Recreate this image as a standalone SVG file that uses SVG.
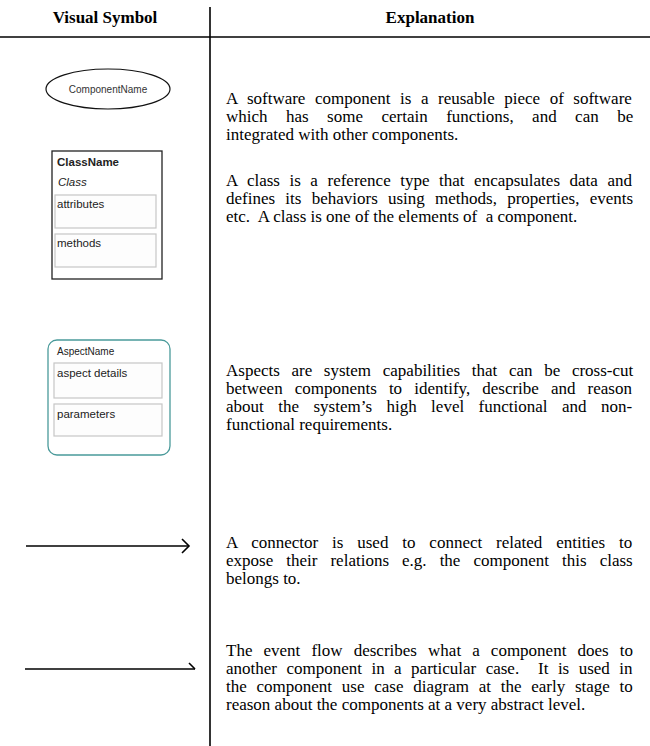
<svg xmlns="http://www.w3.org/2000/svg" width="650" height="746" viewBox="0 0 650 746">
<defs>
<style>
.hd{font-family:"Liberation Serif","Times New Roman",serif;font-weight:bold;font-size:17px;fill:#000;text-anchor:middle}
.tx{font-family:"Liberation Serif","Times New Roman",serif;font-size:17px;fill:#000}
.sm{font-family:"Liberation Sans",Arial,sans-serif;font-size:11.5px;fill:#222}
.rule{stroke:#000;stroke-width:1.6;fill:none}
.sub{fill:#fdfdfd;stroke:#c6c6c6;stroke-width:1.2}
.conn{stroke:#000;stroke-width:1.6;fill:none}
</style>
</defs>
<rect width="650" height="746" fill="#fff"/>
<g id="table">
<line class="rule" x1="210" y1="7" x2="210" y2="746"/>
<line class="rule" x1="0" y1="37" x2="650" y2="37"/>
<text class="hd" x="105" y="23">Visual Symbol</text>
<text class="hd" x="430" y="23">Explanation</text>
</g>
<g id="component">
<ellipse cx="108" cy="89" rx="62" ry="20" fill="#fff" stroke="#111" stroke-width="1.2"/>
<text x="108" y="92.5" text-anchor="middle" style="font-family:'Liberation Sans',Arial,sans-serif;font-size:10px;fill:#333">ComponentName</text>
</g>
<g id="class">
<rect x="52" y="151" width="110" height="128" fill="#fff" stroke="#222" stroke-width="1.3"/>
<text class="sm" x="57" y="166" font-weight="bold" fill="#000">ClassName</text>
<text class="sm" x="58" y="186" font-style="italic" fill="#444">Class</text>
<rect class="sub" x="55" y="195" width="101" height="33"/>
<text class="sm" x="57" y="208">attributes</text>
<rect class="sub" x="55" y="234" width="101" height="33"/>
<text class="sm" x="57" y="247">methods</text>
</g>
<g id="aspect">
<rect x="48" y="340" width="122" height="115" rx="9" fill="#fff" stroke="#4a9a9a" stroke-width="1.3"/>
<text class="sm" x="57" y="355" style="font-size:10px">AspectName</text>
<rect class="sub" x="54" y="363" width="108" height="35"/>
<text class="sm" x="57" y="377">aspect details</text>
<rect class="sub" x="54" y="404" width="108" height="32"/>
<text class="sm" x="57" y="418">parameters</text>
</g>
<g id="connectors">
<line class="conn" x1="26" y1="546" x2="188" y2="546"/>
<polyline class="conn" points="182,539 189,546 182,553"/>
<line class="conn" x1="25" y1="669" x2="195" y2="669"/>
<polyline class="conn" points="189,663 195,669"/>
</g>
<g id="text-component">
<text class="tx" x="226" y="104" word-spacing="5.3">A software component is a reusable piece of software</text>
<text class="tx" x="226" y="122" word-spacing="14.2">which has some certain functions, and can be</text>
<text class="tx" x="226" y="140">integrated with other components.</text>
</g>
<g id="text-class">
<text class="tx" x="226" y="186" word-spacing="5.3">A class is a reference type that encapsulates data and</text>
<text class="tx" x="226" y="204" word-spacing="6.0">defines its behaviors using methods, properties, events</text>
<text class="tx" x="226" y="222" xml:space="preserve">etc.  A class is one of the elements of  a component.</text>
</g>
<g id="text-aspect">
<text class="tx" x="226" y="376" word-spacing="7.4">Aspects are system capabilities that can be cross-cut</text>
<text class="tx" x="226" y="394" word-spacing="7.8">between components to identify, describe and reason</text>
<text class="tx" x="226" y="412" word-spacing="10.2">about the system’s high level functional and non-</text>
<text class="tx" x="226" y="430">functional requirements.</text>
</g>
<g id="text-connector">
<text class="tx" x="226" y="548" word-spacing="9.6">A connector is used to connect related entities to</text>
<text class="tx" x="226" y="566" word-spacing="8.8">expose their relations e.g. the component this class</text>
<text class="tx" x="226" y="584">belongs to.</text>
</g>
<g id="text-event">
<text class="tx" x="226" y="656" word-spacing="6.85">The event flow describes what a component does to</text>
<text class="tx" x="226" y="674" word-spacing="5.2" xml:space="preserve">another component in a particular case.  It is used in</text>
<text class="tx" x="226" y="692" word-spacing="5.5">the component use case diagram at the early stage to</text>
<text class="tx" x="226" y="710">reason about the components at a very abstract level.</text>
</g>
</svg>
